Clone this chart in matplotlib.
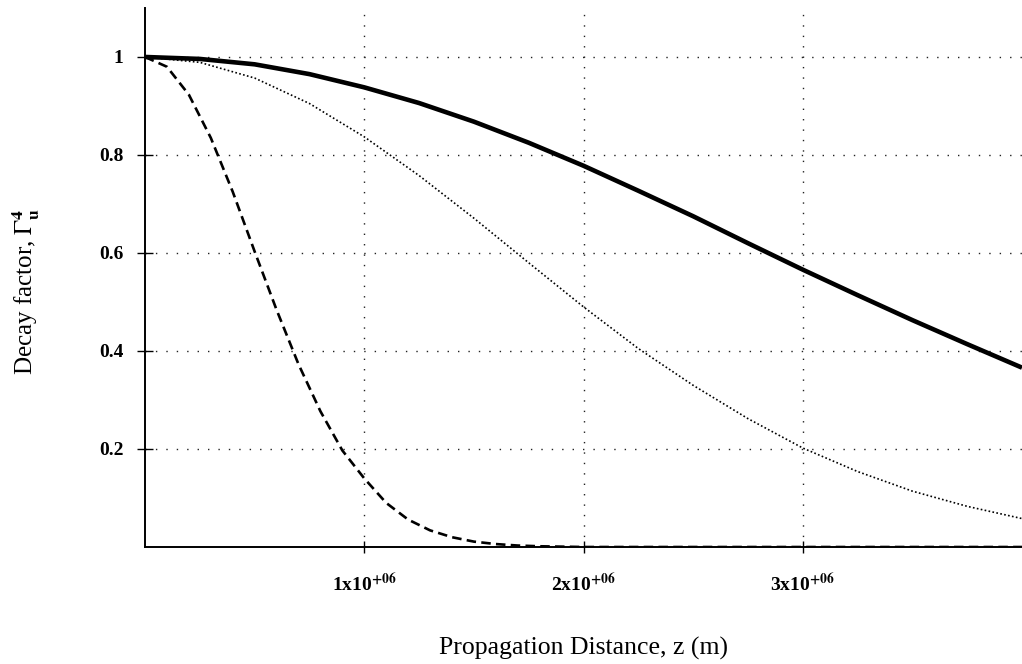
import matplotlib.pyplot as plt
from matplotlib.ticker import FixedLocator, FuncFormatter

# propagation distance (units of 1e6 m) and decay factors
z_wide = [0.0, 0.25, 0.5, 0.75, 1.0, 1.25, 1.5, 1.75, 2.0, 2.25, 2.5,
          2.75, 3.0, 3.25, 3.5, 3.75, 4.0]
solid_vals = [1.0, 0.996, 0.985, 0.965, 0.938, 0.906, 0.868, 0.825, 0.778,
              0.727, 0.675, 0.620, 0.566, 0.514, 0.463, 0.414, 0.366]
dotted_vals = [1.0, 0.989, 0.957, 0.905, 0.837, 0.758, 0.671, 0.580, 0.490,
               0.405, 0.330, 0.262, 0.202, 0.154, 0.114, 0.083, 0.058]

z_narrow = [0.0, 0.1, 0.2, 0.3, 0.4, 0.5, 0.6, 0.7, 0.8, 0.9, 1.0, 1.1,
            1.2, 1.3, 1.4, 1.5, 1.6, 1.7, 1.8, 2.0, 2.5, 3.0, 3.5, 4.0]
dashed_vals = [1.0, 0.980, 0.923, 0.835, 0.725, 0.603, 0.484, 0.373, 0.277,
               0.197, 0.140, 0.090, 0.056, 0.034, 0.020, 0.011, 0.006,
               0.003, 0.0015, 0.0, 0.0, 0.0, 0.0, 0.0]

x_ticks = [1.0, 2.0, 3.0]
x_tick_labels = [r"1x10$^{\mathbf{+06}}$", r"2x10$^{\mathbf{+06}}$",
                 r"3x10$^{\mathbf{+06}}$"]
y_ticks = [0.2, 0.4, 0.6, 0.8, 1.0]

plt.rcParams["font.family"] = ["Liberation Serif", "DejaVu Serif"]
plt.rcParams["mathtext.fontset"] = "stix"

fig = plt.figure(figsize=(10.22, 6.64), dpi=100)
ax = fig.add_axes([0.1419, 0.1762, 0.8581, 0.8118])

ax.plot(z_wide, solid_vals, color="black", lw=3.3, solid_capstyle="butt")
ax.plot(z_wide, dotted_vals, color="black", lw=1.2, linestyle=(0, (1, 1.4)))
ax.plot(z_narrow, dashed_vals, color="black", lw=1.9,
        linestyle=(0, (3.6, 2.0)))

ax.set_xlim(0, 4.0)
ax.set_ylim(0, 1.1)

ax.xaxis.set_major_locator(FixedLocator(x_ticks))
ax.set_xticklabels(x_tick_labels, fontsize=14, fontweight="bold")
ax.yaxis.set_major_locator(FixedLocator(y_ticks))
ax.yaxis.set_major_formatter(FuncFormatter(lambda v, p: f"{v:g}"))
for lab in ax.get_yticklabels():
    lab.set_fontsize(14)
    lab.set_fontweight("bold")

ax.tick_params(axis="x", direction="inout", length=9, width=1.0, pad=13)
ax.tick_params(axis="y", direction="inout", length=11, width=1.0, pad=10)

ax.grid(True, color="#222222", lw=1.0, linestyle=(0, (1, 6.5)))

for side in ("top", "right"):
    ax.spines[side].set_visible(False)
for side in ("left", "bottom"):
    ax.spines[side].set_linewidth(1.4)

ax.set_xlabel("Propagation Distance, z (m)", fontsize=18.5, labelpad=30)
ax.set_ylabel(r"Decay factor, $\Gamma_{\mathbf{u}}^{\mathbf{4}}$", fontsize=18)
ax.yaxis.set_label_coords(-0.118, 0.475)

fig.savefig("out.png", dpi=100)
